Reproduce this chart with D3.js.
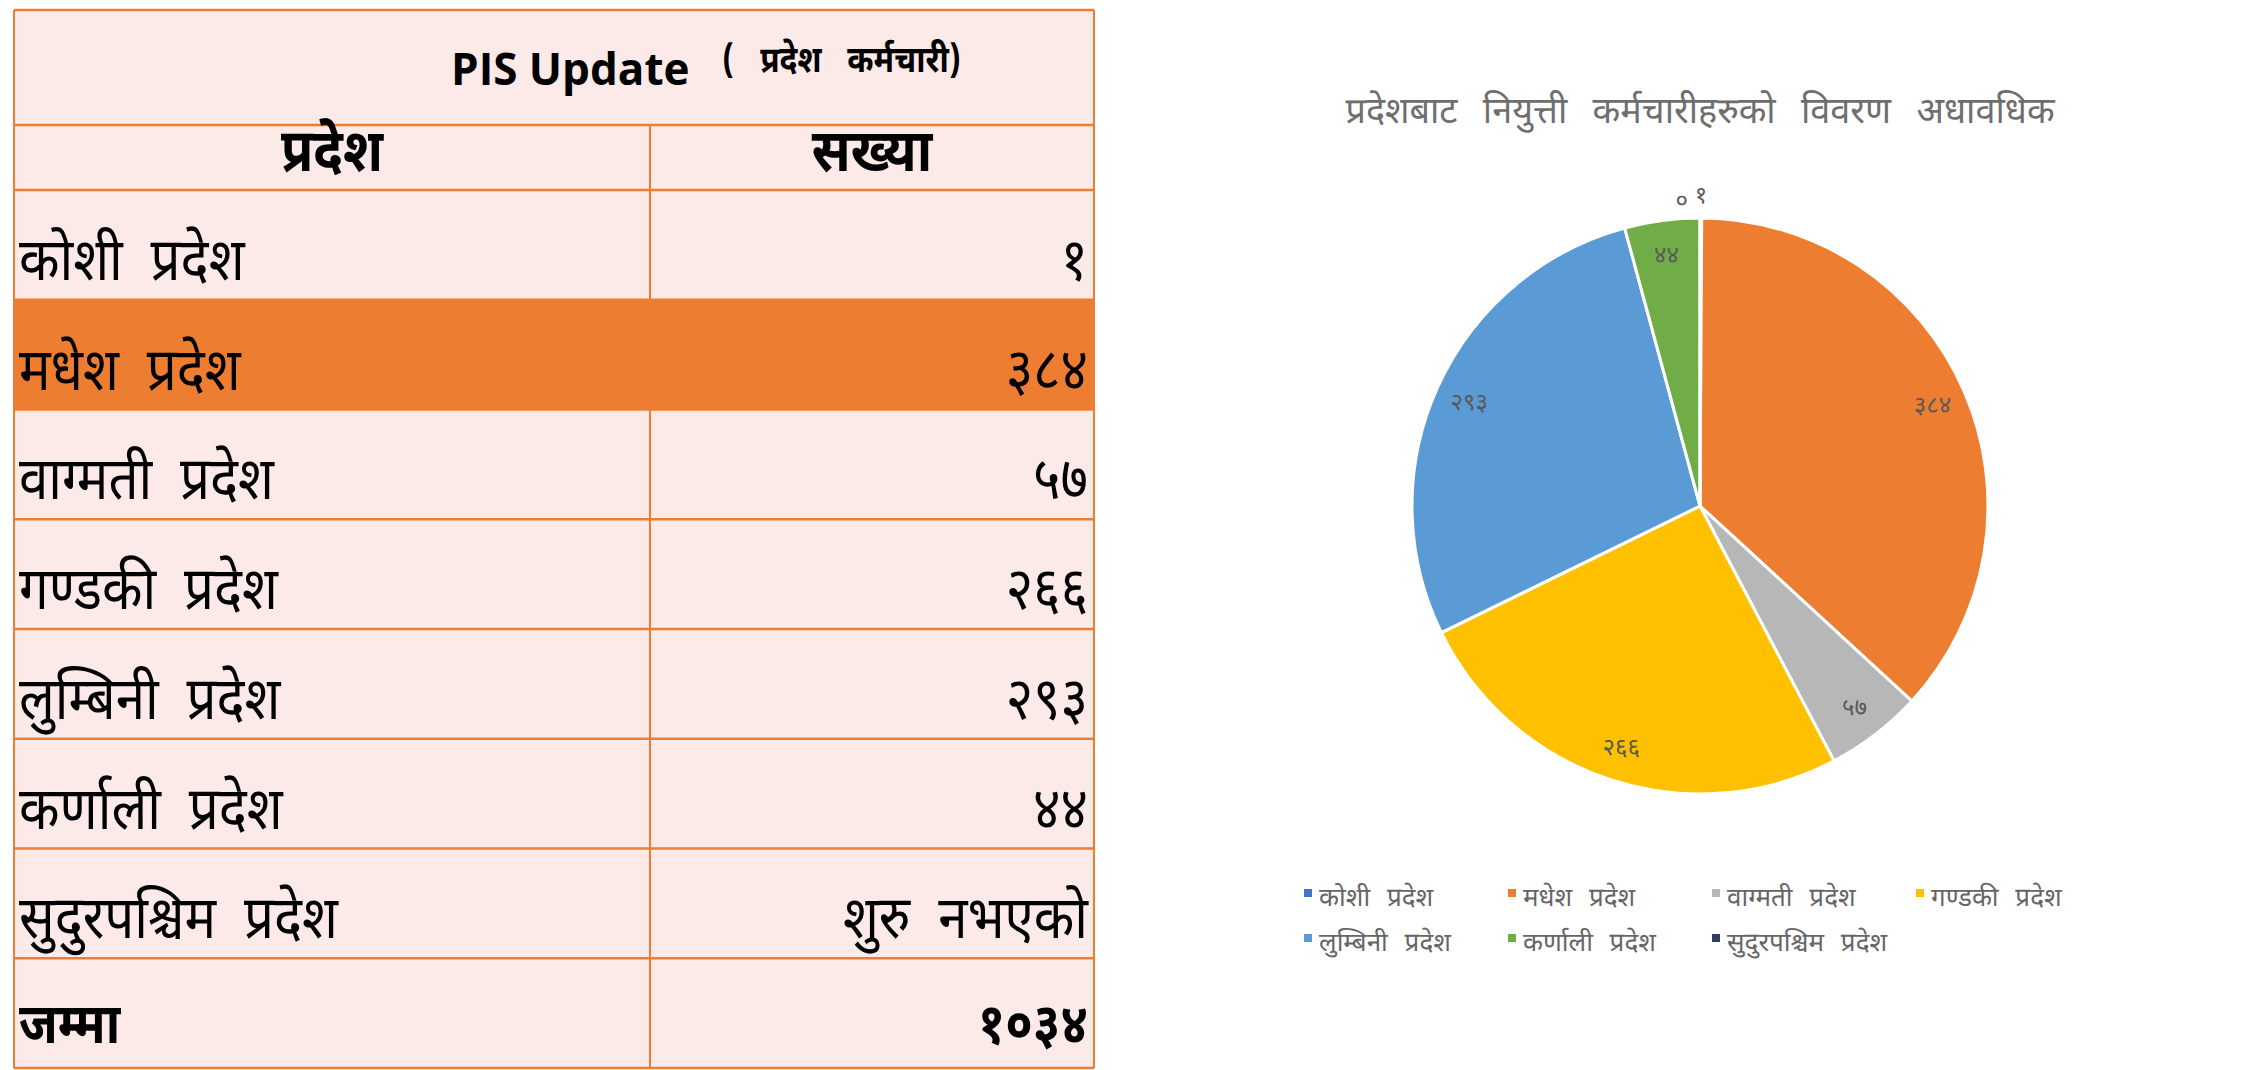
<!DOCTYPE html>
<html>
<head>
<meta charset="utf-8">
<script src="https://cdn.jsdelivr.net/npm/d3@7/dist/d3.min.js"></script>
<style>
  body { margin: 0; background: #fff; }
  svg text { font-family: "Noto Sans Devanagari", "Lohit Devanagari", "Noto Sans", sans-serif; }
</style>
</head>
<body>
<div id="chart"></div>
<script>
// data
var provinces = ["कोशी प्रदेश", "मधेश प्रदेश", "वाग्मती प्रदेश", "गण्डकी प्रदेश",
	"लुम्बिनी प्रदेश", "कर्णाली प्रदेश", "सुदुरपश्चिम प्रदेश"];
var counts = [1, 384, 57, 266, 293, 44, 0];
var countText = ["१", "३८४", "५७", "२६६", "२९३", "४४", "शुरु नभएको"];
var pieLabels = ["१", "३८४", "५७", "२६६", "२९३", "४४", "०"];
var totalName = "जम्मा";
var totalText = "१०३४";
var highlighted = "मधेश प्रदेश";
var colors = ["#4472C4", "#ED7D31", "#B7B7B7", "#FFC000", "#5B9BD5", "#70AD47", "#2E3F62"];

var width = 2262, height = 1070;

var svg = d3.select("#chart")
	.append("svg")
	.attr("width", width)
	.attr("height", height);

svg.append("rect")
	.attr("width", width)
	.attr("height", height)
	.attr("fill", "#fff");

// ---------- table ----------
var tbl = {left: 14, right: 1094, split: 650, top: 10, titleBottom: 125, headBottom: 190, bottom: 1068};
var LINE = "#ED7D31";
var SQUEEZE = 0.88; // sheet font is narrower than Noto

var rowNames = provinces.concat([totalName]);
var rowValues = countText.concat([totalText]);
var rowY = d3.scaleBand()
	.domain(rowNames)
	.range([tbl.headBottom, tbl.bottom]);

// baseline and size per row (the total row sits a bit tighter to the bottom edge)
var rowBase = d => rowY(d) + rowY.bandwidth() - (d === totalName ? 25 : 20);
var rowSize = d => d === totalName ? "56px" : "60px";

var table = svg.append("g");

table.append("rect")
	.attr("x", tbl.left)
	.attr("y", tbl.top)
	.attr("width", tbl.right - tbl.left)
	.attr("height", tbl.bottom - tbl.top)
	.attr("fill", "#FBEAE7");

// column divider (under the highlighted row)
table.append("line")
	.attr("x1", tbl.split).attr("x2", tbl.split)
	.attr("y1", tbl.titleBottom).attr("y2", tbl.bottom)
	.attr("stroke", LINE)
	.attr("stroke-width", 2);

table.append("rect")
	.attr("x", tbl.left)
	.attr("y", rowY(highlighted))
	.attr("width", tbl.right - tbl.left)
	.attr("height", rowY.bandwidth())
	.attr("fill", "#ED7D31");

var hLines = [tbl.top, tbl.titleBottom, tbl.headBottom].concat(rowNames.map(d => rowY(d) + rowY.bandwidth()));
table.selectAll("hline")
	.data(hLines)
	.enter()
	.append("line")
	.attr("x1", tbl.left).attr("x2", tbl.right)
	.attr("y1", d => d).attr("y2", d => d)
	.attr("stroke", LINE)
	.attr("stroke-width", 2.5);

table.selectAll("vline")
	.data([tbl.left, tbl.right])
	.enter()
	.append("line")
	.attr("x1", d => d).attr("x2", d => d)
	.attr("y1", tbl.top).attr("y2", tbl.bottom)
	.attr("stroke", LINE)
	.attr("stroke-width", 2);

// title row
table.append("text")
	.attr("x", 451)
	.attr("y", 85)
	.style("font-family", "'Open Sans', sans-serif")
	.style("font-weight", "bold")
	.style("font-size", "44px")
	.attr("fill", "#000")
	.text("PIS Update");

table.append("text")
	.attr("transform", "translate(722,72) scale(" + SQUEEZE + ",1)")
	.style("font-weight", "bold")
	.style("font-size", "36px")
	.style("word-spacing", "20px")
	.attr("fill", "#000")
	.text("( प्रदेश कर्मचारी)");

// header row
table.selectAll("head")
	.data([["प्रदेश", (tbl.left + tbl.split) / 2], ["सख्या", (tbl.split + tbl.right) / 2]])
	.enter()
	.append("text")
	.attr("transform", d => "translate(" + d[1] + ",171) scale(" + SQUEEZE + ",1)")
	.attr("text-anchor", "middle")
	.style("font-weight", "bold")
	.style("font-size", "60px")
	.attr("fill", "#000")
	.text(d => d[0]);

// body rows
table.selectAll("rowname")
	.data(rowNames)
	.enter()
	.append("text")
	.attr("transform", d => "translate(" + (tbl.left + 5) + "," + rowBase(d) + ") scale(" + SQUEEZE + ",1)")
	.style("font-size", rowSize)
	.style("word-spacing", "16px")
	.style("font-weight", d => d === totalName ? "bold" : "normal")
	.attr("fill", "#000")
	.text(d => d);

table.selectAll("rowvalue")
	.data(rowNames.map((d, i) => [d, rowValues[i]]))
	.enter()
	.append("text")
	.attr("transform", d => "translate(" + (tbl.right - 6) + "," + rowBase(d[0]) + ") scale(" + SQUEEZE + ",1)")
	.attr("text-anchor", "end")
	.style("font-size", d => rowSize(d[0]))
	.style("word-spacing", "16px")
	.style("font-weight", d => d[0] === totalName ? "bold" : "normal")
	.attr("fill", "#000")
	.text(d => d[1]);

// ---------- pie chart ----------
var cx = 1700, cy = 506, radius = 288;

svg.append("text")
	.attr("x", cx)
	.attr("y", 123)
	.attr("text-anchor", "middle")
	.style("font-size", "36px")
	.style("word-spacing", "16px")
	.attr("fill", "#6E6E6E")
	.text("प्रदेशबाट नियुत्ती कर्मचारीहरुको विवरण अधावधिक");

var pieData = provinces.map((d, i) => ({name: d, value: counts[i], label: pieLabels[i], color: colors[i]}));
var pie = d3.pie().sort(null).value(d => d.value);
var arcs = pie(pieData);

var arc = d3.arc().innerRadius(0).outerRadius(radius);
var labelArc = d3.arc().innerRadius(radius * 0.88).outerRadius(radius * 0.88);
var outerArc = d3.arc().innerRadius(radius * 1.08).outerRadius(radius * 1.08);

var pieG = svg.append("g")
	.attr("transform", "translate(" + cx + "," + cy + ")");

pieG.selectAll("slice")
	.data(arcs)
	.enter()
	.append("path")
	.attr("d", arc)
	.attr("fill", d => d.data.color)
	.attr("stroke", "#fff")
	.attr("stroke-width", 3);

// small slices get their label outside the pie
var isSmall = d => (d.endAngle - d.startAngle) < 0.05;

pieG.selectAll("plabel")
	.data(arcs)
	.enter()
	.append("text")
	.attr("transform", d => "translate(" + (isSmall(d) ? outerArc : labelArc).centroid(d) + ")")
	.attr("dy", d => d.data.value === 0 ? "0.55em" : "0.35em")
	.attr("dx", d => d.data.value === 0 ? -12 : 0)
	.attr("text-anchor", d => d.data.value === 0 ? "end" : "middle")
	.style("font-size", "24px")
	.attr("fill", "#595959")
	.text(d => d.data.label);

// legend
var legend = svg.append("g")
	.selectAll("item")
	.data(pieData)
	.enter()
	.append("g")
	.attr("transform", (d, i) => "translate(" + (1304 + (i % 4) * 204) + "," + (889 + Math.floor(i / 4) * 45) + ")");

legend.append("rect")
	.attr("width", 8)
	.attr("height", 8)
	.attr("fill", d => d.color);

legend.append("text")
	.attr("x", 15)
	.attr("y", 17)
	.style("font-size", "26px")
	.style("word-spacing", "10px")
	.attr("fill", "#666")
	.text(d => d.name);
</script>
</body>
</html>
